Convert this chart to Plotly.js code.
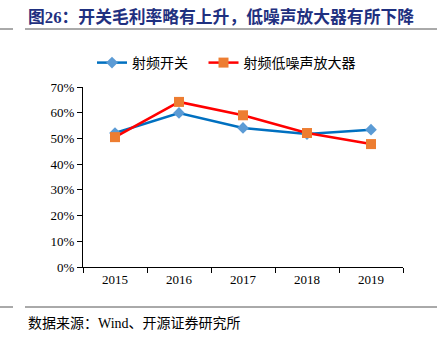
<!DOCTYPE html>
<html>
<head>
<meta charset="utf-8">
<script src="https://cdn.plot.ly/plotly-3.0.1.min.js"></script>
<style>html,body{margin:0;padding:0;background:#fff;}#chart{width:437px;height:337px;}</style>
</head>
<body>
<div id="chart"></div>
<script>
const years = ['2015', '2016', '2017', '2018', '2019'];
const rfSwitch = [0.521, 0.599, 0.541, 0.517, 0.534];
const rfLna = [0.505, 0.642, 0.590, 0.521, 0.478];
const yTicks = [0, 0.1, 0.2, 0.3, 0.4, 0.5, 0.6, 0.7];
const yTickText = ['0%', '10%', '20%', '30%', '40%', '50%', '60%', '70%'];
const seriesNames = ['射频开关', '射频低噪声放大器'];

const serif = '"Liberation Serif", "Times New Roman", serif';
const cjk = '"Liberation Serif", "Noto Sans CJK SC", serif';

const traces = [
  {x: years, y: rfSwitch, name: seriesNames[0] + '\u00a0\u00a0\u00a0', type: 'scatter', mode: 'lines+markers',
   line: {color: '#0070C0', width: 2.5},
   marker: {symbol: 'diamond', size: 9, color: '#5B9BD5'}},
  {x: years, y: rfLna, name: seriesNames[1], type: 'scatter', mode: 'lines+markers',
   line: {color: '#FF0000', width: 2.5},
   marker: {symbol: 'square', size: 10, color: '#ED7D31'}}
];

const L = 83, R = 34, T = 87, B = 70;
const W = 437 - L - R, H = 337 - T - B;
const px = v => (v - L) / W;
const py = v => (337 - B - v) / H;

const layout = {
  width: 437, height: 337,
  margin: {l: L, r: R, t: T, b: B},
  paper_bgcolor: '#fff', plot_bgcolor: '#fff',
  showlegend: true,
  legend: {orientation: 'h', x: px(92), y: py(47), xanchor: 'left', yanchor: 'top',
           font: {family: cjk, size: 14, color: '#000'}, itemwidth: 30, tracegroupgap: 0,
           bgcolor: 'rgba(0,0,0,0)'},
  xaxis: {type: 'category', range: [-0.5, 4.5], tickson: 'boundaries', ticks: 'outside',
          ticklen: 5, tickcolor: '#000', showline: true, linecolor: '#000', linewidth: 1,
          showgrid: false, zeroline: false, fixedrange: true,
          tickfont: {family: serif, size: 13, color: '#000'}},
  yaxis: {range: [0, 0.7], tickvals: yTicks, ticktext: yTickText, ticks: 'outside',
          ticklen: 5, tickcolor: '#000', showline: true, linecolor: '#000', linewidth: 1,
          showgrid: false, zeroline: false, fixedrange: true,
          tickfont: {family: serif, size: 13, color: '#000'}},
  shapes: [
    {type: 'line', xref: 'paper', yref: 'paper', x0: px(25), x1: px(437), y0: py(29), y1: py(29), line: {color: '#555', width: 1}},
    {type: 'line', xref: 'paper', yref: 'paper', x0: px(0), x1: px(13), y0: py(29), y1: py(29), line: {color: '#555', width: 1}},
    {type: 'line', xref: 'paper', yref: 'paper', x0: px(25), x1: px(437), y0: py(307), y1: py(307), line: {color: '#555', width: 1}},
    {type: 'line', xref: 'paper', yref: 'paper', x0: px(0), x1: px(13), y0: py(307), y1: py(307), line: {color: '#555', width: 1}}
  ],
  annotations: [
    {text: '<b>图26：开关毛利率略有上升，低噪声放大器有所下降</b>', xref: 'paper', yref: 'paper',
     x: px(26), y: py(17), xanchor: 'left', yanchor: 'middle', showarrow: false,
     font: {family: cjk, size: 16.8, color: '#1F3080'}},
    {text: '数据来源：Wind、开源证券研究所', xref: 'paper', yref: 'paper',
     x: px(26), y: py(323), xanchor: 'left', yanchor: 'middle', showarrow: false,
     font: {family: cjk, size: 14, color: '#000'}}
  ]
};

Plotly.newPlot('chart', traces, layout, {displayModeBar: false, staticPlot: true});
</script>
</body>
</html>
